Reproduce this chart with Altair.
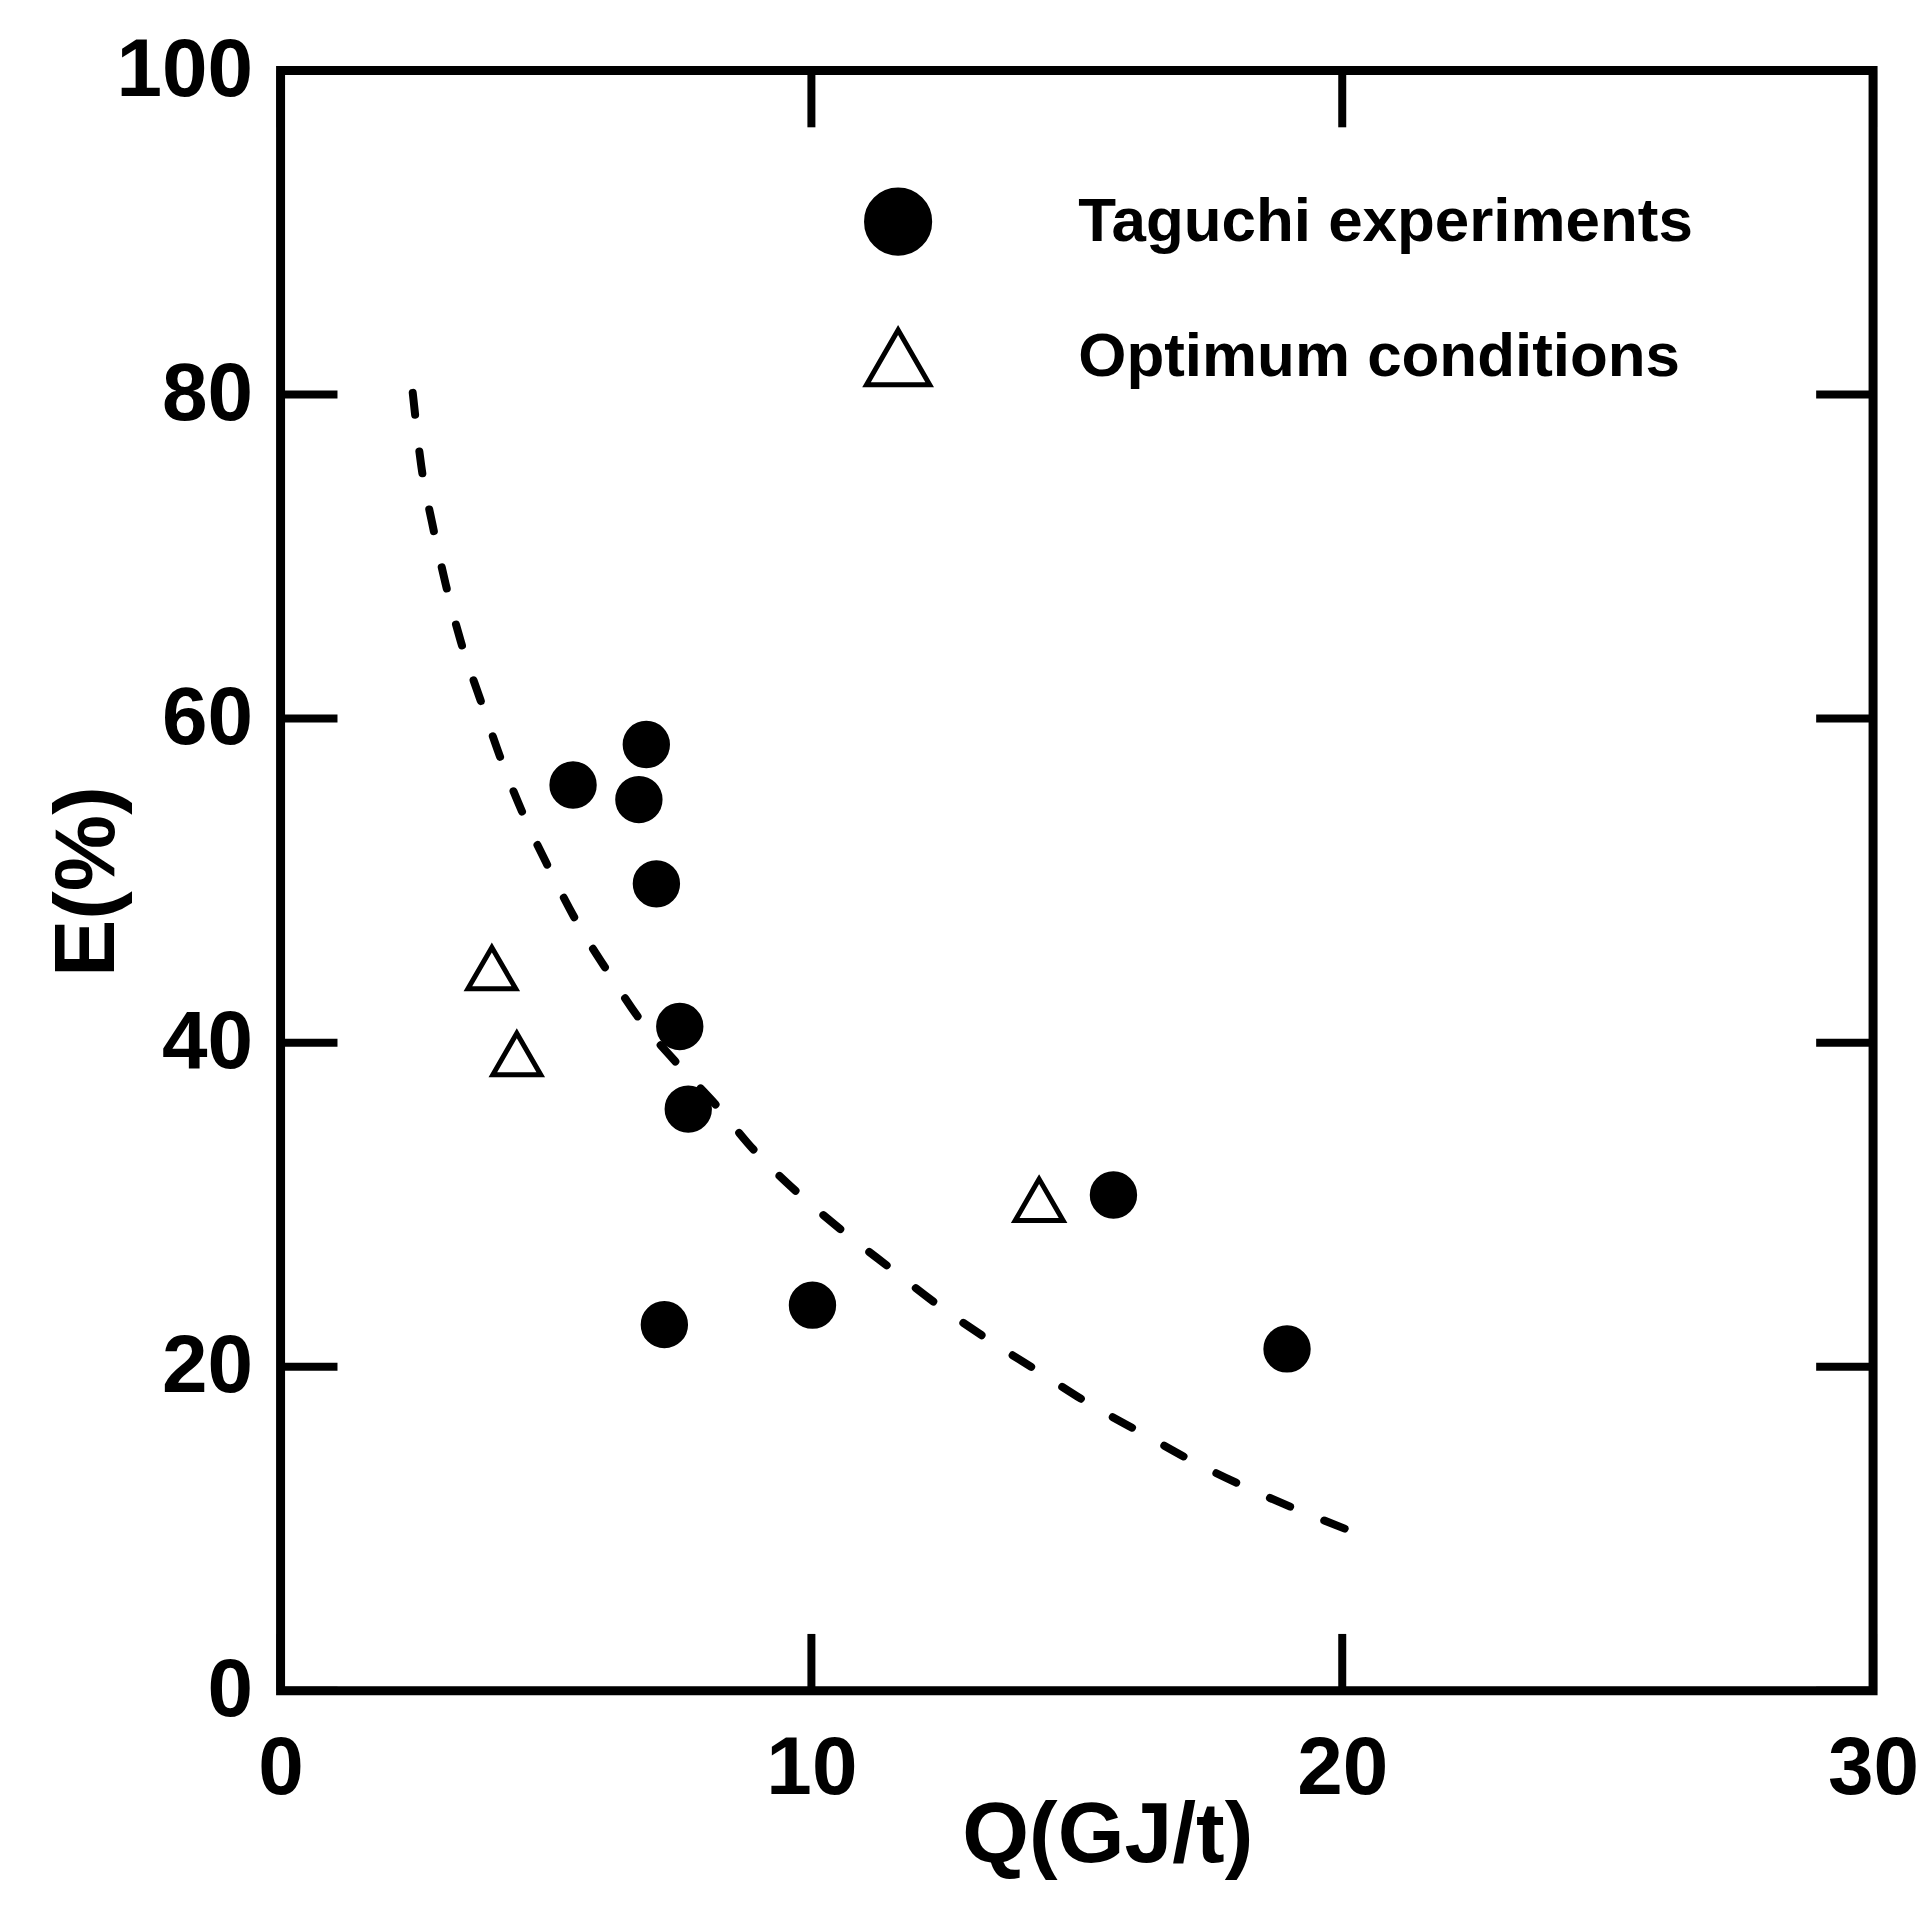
import altair as alt
import pandas as pd

# ---- data ----
series_names = ["Taguchi experiments", "Optimum conditions"]

taguchi_q = [5.51, 6.89, 6.75, 7.08, 7.52, 7.68, 7.23, 10.02, 15.69, 18.96]
taguchi_e = [55.9, 58.4, 55.0, 49.8, 41.0, 35.9, 22.6, 23.8, 30.6, 21.1]

optimum_q = [3.98, 4.45, 14.29]
optimum_e = [44.6, 39.3, 30.3]

curve_q = [2.49, 2.65, 2.86, 3.11, 3.40, 3.76, 4.14, 4.57, 5.05, 5.59, 6.18,
           6.82, 7.56, 8.19, 8.91, 9.72, 10.58, 11.48, 12.39, 13.32, 14.28,
           15.24, 16.23, 17.22, 18.23, 19.29, 20.07]
curve_e = [80.1, 75.6, 72.0, 68.3, 64.7, 61.2, 57.6, 54.1, 50.8, 47.4, 44.3,
           41.2, 38.4, 36.2, 33.4, 30.8, 28.4, 26.1, 23.8, 21.7, 19.7,
           17.7, 15.9, 14.1, 12.5, 11.0, 9.98]

x_ticks = [0, 10, 20, 30]
y_ticks = [0, 20, 40, 60, 80, 100]

# ---- tables ----
taguchi = pd.DataFrame({"Q": taguchi_q, "E": taguchi_e,
                        "series": [series_names[0]] * len(taguchi_q)})
optimum = pd.DataFrame({"Q": optimum_q, "E": optimum_e,
                        "series": [series_names[1]] * len(optimum_q)})
curve = pd.DataFrame({"Q": curve_q, "E": curve_e})
xt = pd.DataFrame({"Q": x_ticks})
yt = pd.DataFrame({"E": y_ticks})

W, H = 1595, 1623
TICK = 57
FONT = "Liberation Sans"

x_scale = alt.Scale(domain=[0, 30], nice=False, zero=False)
y_scale = alt.Scale(domain=[0, 100], nice=False, zero=False)

x_axis = alt.Axis(
    values=x_ticks, title="Q(GJ/t)", grid=False, domain=False, ticks=False, tickSize=0,
    labelFont=FONT, labelFontSize=82, labelFontWeight="bold", labelColor="black",
    labelPadding=38, labelFlush=False, labelOverlap=False,
    titleFont=FONT, titleFontSize=86, titleFontWeight="bold", titleColor="black",
    titleX=828, titleY=171, titleBaseline="alphabetic", titleAlign="center",
)
y_axis = alt.Axis(
    values=y_ticks, title="E(%)", grid=False, domain=False, ticks=False, tickSize=0,
    labelFont=FONT, labelFontSize=82, labelFontWeight="bold", labelColor="black",
    labelPadding=28, labelFlush=False, labelOverlap=False,
    titleFont=FONT, titleFontSize=86, titleFontWeight="bold", titleColor="black",
    titleX=-167, titleY=812, titleBaseline="alphabetic", titleAlign="center", titleAngle=270,
)

X = alt.X("Q:Q", scale=x_scale, axis=x_axis)
Y = alt.Y("E:Q", scale=y_scale, axis=y_axis)

legend = alt.Legend(
    title=None, orient="none", legendX=584, legendY=117, padding=0,
    symbolSize=4000, symbolStrokeWidth=5,
    labelFont=FONT, labelFontSize=62, labelFontWeight="bold", labelColor="black",
    labelOffset=146, labelLimit=1200, rowPadding=56, labelBaseline="middle",
)

shape_enc = alt.Shape("series:N", scale=alt.Scale(domain=series_names, range=["circle", "triangle-up"]), legend=legend)
fill_enc = alt.Fill("series:N", scale=alt.Scale(domain=series_names, range=["black", "transparent"]), legend=legend)
stroke_enc = alt.Stroke("series:N", scale=alt.Scale(domain=series_names, range=["black", "black"]), legend=legend)

line = alt.Chart(curve).mark_line(
    color="black", strokeWidth=8, strokeDash=[22, 37], strokeCap="round",
    interpolate="monotone",
).encode(x=X, y=Y, order="Q:Q")

circles = alt.Chart(taguchi).mark_point(
    filled=True, size=1800, strokeWidth=5, opacity=1,
).encode(x=X, y=Y, shape=shape_enc, fill=fill_enc, stroke=stroke_enc)

triangles = alt.Chart(optimum).mark_point(
    filled=True, size=2300, strokeWidth=5, opacity=1,
).encode(x=X, y=Y, shape=shape_enc, fill=fill_enc, stroke=stroke_enc)

rule_style = dict(color="black", strokeWidth=8)
bottom_ticks = alt.Chart(xt).mark_rule(**rule_style).encode(
    x=X, y=alt.value(H), y2=alt.value(H - TICK))
top_ticks = alt.Chart(xt).mark_rule(**rule_style).encode(
    x=X, y=alt.value(0), y2=alt.value(TICK))
left_ticks = alt.Chart(yt).mark_rule(**rule_style).encode(
    y=Y, x=alt.value(0), x2=alt.value(TICK))
right_ticks = alt.Chart(yt).mark_rule(**rule_style).encode(
    y=Y, x=alt.value(W), x2=alt.value(W - TICK))

chart = alt.layer(
    bottom_ticks, top_ticks, left_ticks, right_ticks, line, circles, triangles
).properties(
    width=W, height=H,
    autosize=alt.AutoSizeParams(type="none"),
    padding={"left": 273, "top": 61, "right": 45, "bottom": 219},
    background="white",
).configure(
    font=FONT,
).configure_view(
    stroke="black", strokeWidth=9,
)

chart.save("out.html", embed_options={"renderer": "svg", "actions": False})
